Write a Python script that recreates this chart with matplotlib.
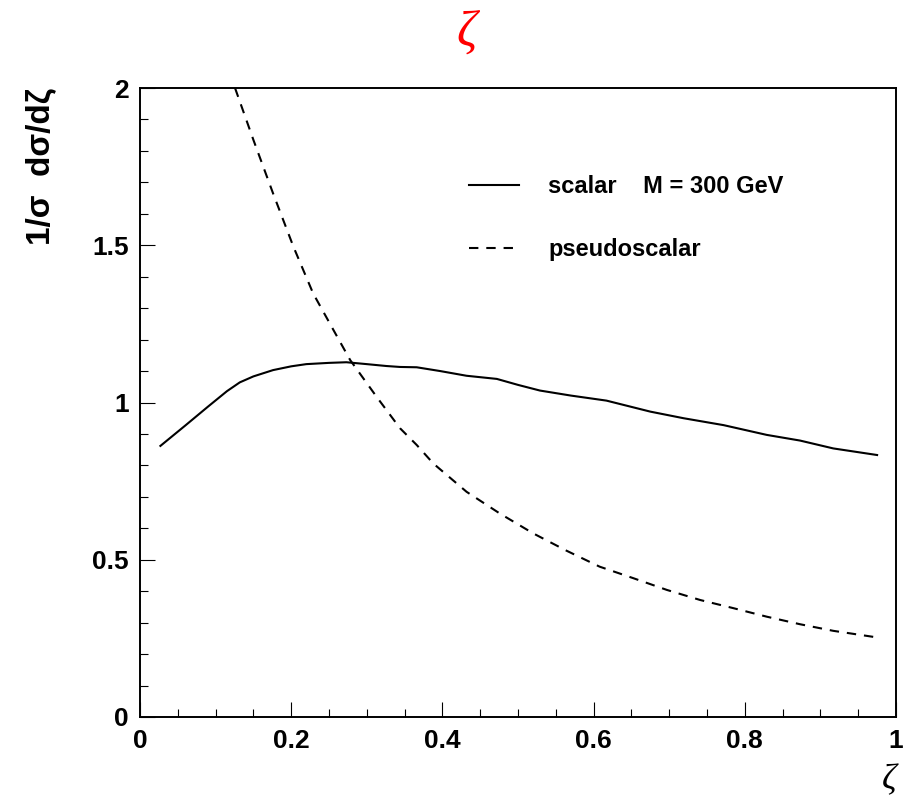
import matplotlib
matplotlib.use("Agg")
import matplotlib.pyplot as plt
from matplotlib.ticker import MultipleLocator

# Normalised zeta distributions for a 300 GeV resonance
zeta_scalar = [0.027, 0.06, 0.09, 0.115, 0.132, 0.15, 0.176, 0.20, 0.22, 0.25,
               0.273, 0.30, 0.326, 0.344, 0.366, 0.397, 0.432, 0.472, 0.50,
               0.529, 0.57, 0.617, 0.675, 0.719, 0.772, 0.829, 0.873, 0.917, 0.975]
dist_scalar = [0.862, 0.927, 0.987, 1.036, 1.064, 1.083, 1.103, 1.115, 1.122, 1.126,
               1.128, 1.122, 1.116, 1.113, 1.112, 1.100, 1.085, 1.075, 1.056,
               1.038, 1.022, 1.006, 0.971, 0.950, 0.928, 0.897, 0.879, 0.854, 0.833]

zeta_pseudo = [0.1257, 0.150, 0.176, 0.203, 0.229, 0.256, 0.278, 0.313, 0.344,
               0.366, 0.388, 0.432, 0.476, 0.520, 0.564, 0.608, 0.653, 0.697,
               0.741, 0.785, 0.829, 0.873, 0.917, 0.975]
dist_pseudo = [2.0, 1.835, 1.665, 1.495, 1.347, 1.230, 1.135, 1.018, 0.918,
               0.865, 0.806, 0.716, 0.647, 0.584, 0.529, 0.478, 0.441, 0.404,
               0.372, 0.346, 0.319, 0.295, 0.274, 0.253]

label_scalar = "scalar    M = 300 GeV"
label_pseudo = "pseudoscalar"

SANS = ["Liberation Sans", "DejaVu Sans"]
SERIF = ["Liberation Serif", "DejaVu Serif"]

fig = plt.figure(figsize=(9.13, 7.99), dpi=100)
ax = fig.add_axes([140 / 913, 82 / 799, 756 / 913, 629 / 799])

ax.plot(zeta_scalar, dist_scalar, color="black", lw=1.5, label=label_scalar)
ax.plot(zeta_pseudo, dist_pseudo, color="black", lw=1.5,
        linestyle=(0, (4.5, 3.8)), label=label_pseudo)

ax.set_xlim(0, 1)
ax.set_ylim(0, 2)

ax.xaxis.set_major_locator(MultipleLocator(0.2))
ax.xaxis.set_minor_locator(MultipleLocator(0.05))
ax.yaxis.set_major_locator(MultipleLocator(0.5))
ax.yaxis.set_minor_locator(MultipleLocator(0.1))
ax.xaxis.set_major_formatter(plt.FuncFormatter(lambda v, p: f"{v:g}"))
ax.yaxis.set_major_formatter(plt.FuncFormatter(lambda v, p: f"{v:g}"))

ax.tick_params(which="both", direction="in", top=False, right=False, width=0.8,
               color="black")
ax.tick_params(which="major", length=11)
ax.tick_params(which="minor", length=5.5)
ax.tick_params(axis="x", which="major", pad=8.5)
ax.tick_params(axis="y", which="major", pad=8)
for lab in ax.get_xticklabels() + ax.get_yticklabels():
    lab.set_family(SANS)
    lab.set_fontweight("bold")
    lab.set_fontsize(19)

for sp in ax.spines.values():
    sp.set_linewidth(1.4)

ax.set_ylabel("1/σ  dσ/dζ", loc="top", family=SANS, fontweight="bold",
              fontsize=24)
ax.yaxis.set_label_coords(-0.131, 1.0)
ax.yaxis.label.set_verticalalignment("center")

ax.set_xlabel("ζ", loc="right", family=SERIF, fontsize=26, fontstyle="italic")
ax.xaxis.set_label_coords(1.0, -0.075)
ax.xaxis.label.set_verticalalignment("top")

fig.text(467 / 913, 1 - 33 / 799, "ζ", color="red", family=SERIF,
         fontstyle="italic", fontsize=36, ha="center", va="center")

leg = ax.legend(loc="upper left", bbox_to_anchor=(0.4356, 0.862), frameon=False,
                prop={"family": SANS, "weight": "bold", "size": 17},
                handlelength=2.12, handletextpad=1.23, labelspacing=1.72,
                borderpad=0, borderaxespad=0)

fig.savefig("out.png", dpi=100)
